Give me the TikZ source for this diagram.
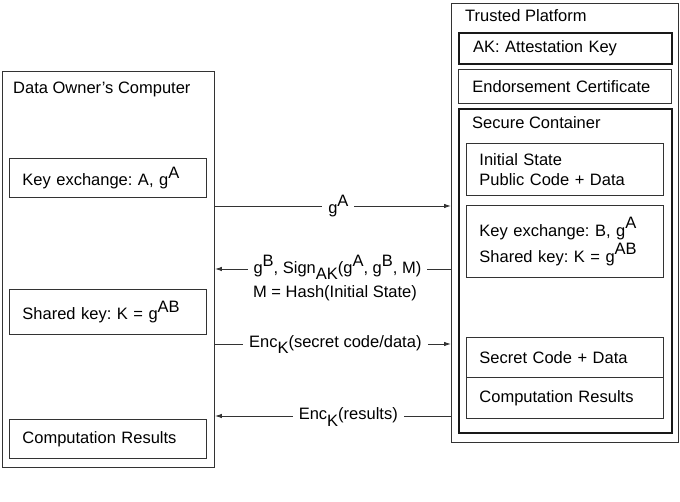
\documentclass[tikz,border=0pt]{standalone}
\usepackage{fontspec}
\setmainfont{Liberation Sans}
\usetikzlibrary{arrows.meta}
\frenchspacing
\newcommand{\upidx}[1]{\raisebox{7.5pt}{#1}}
\newcommand{\lowidx}[1]{\raisebox{-6pt}{#1}}

\begin{document}
\begin{tikzpicture}[>={Latex[length=7pt,width=4.5pt]}, x=1pt, y=-1pt,
		every node/.style={font=\fontsize{16.5}{20}\selectfont},
		boxline/.style={draw=black!80, line width=0.9pt, anchor=north west, inner sep=0pt},
		panel/.style={boxline, align=left, text width=171pt, inner xsep=13pt, inner ysep=0pt},
		widepanel/.style={panel, text width=185pt, inner xsep=14pt},
		heavy/.style={draw=black!90, line width=2pt},
		heading/.style={anchor=base west, inner sep=0pt},
		msg/.style={fill=white, inner xsep=6pt, inner ysep=1pt, anchor=base},
		link/.style={->, draw=black!80, line width=0.9pt}]
	\useasboundingbox (0,0) rectangle (680,502);

	% data owner side
	\node[boxline, minimum width=212pt, minimum height=396pt] (owner) at (2,71) {};
	\node[heading] (ownertitle) at (13,94) {Data Owner's Computer};
	\node[panel, minimum height=39pt] (kexA) at (9,158) {Key exchange: A, g\upidx{A}};
	\node[panel, minimum height=45pt] (sharedA) at (9,289) {Shared key: K = g\upidx{AB}};
	\node[panel, minimum height=39pt] (resultsA) at (9,419) {Computation Results};

	% trusted platform side
	\node[boxline, minimum width=227pt, minimum height=439pt] (platform) at (451,3) {};
	\node[heading] (platformtitle) at (465,22) {Trusted Platform};
	\node[widepanel, heavy, minimum height=31pt] (ak) at (458,32) {AK: Attestation Key};
	\node[widepanel, minimum height=34pt] (cert) at (458,69) {Endorsement Certificate};
	\node[boxline, heavy, minimum width=213pt, minimum height=324pt] (container) at (458,108) {};
	\node[heading] (containertitle) at (472,129) {Secure Container};
	\node[panel, minimum height=52pt] (state) at (466,143) {Initial State\\Public Code + Data};
	\node[panel, minimum height=72pt] (kexB) at (466,205) {Key exchange: B, g\upidx{A}\\[3pt]Shared key: K = g\upidx{AB}};
	\node[panel, minimum height=40pt] (secret) at (466,337) {Secret Code + Data};
	\node[panel, minimum height=41pt] (resultsB) at (466,377) {Computation Results};

	% messages
	\coordinate (m1) at (0,206);
	\coordinate (m2) at (0,269);
	\coordinate (m3) at (0,344);
	\coordinate (m4) at (0,416);

	\draw[link] (owner.east |- m1) -- node[msg, pos=0.523, yshift=-8pt] (gA) {g\upidx{A}} (platform.west |- m1);
	\draw[link] (platform.west |- m2) -- node[msg, pos=0.481, yshift=-5pt] (signB) {g\upidx{B}, Sign\lowidx{AK}(g\upidx{A}, g\upidx{B}, M)} (owner.east |- m2);
	\node[heading, anchor=base] (hashM) at (335,298) {M = Hash(Initial State)};
	\draw[link] (owner.east |- m3) -- node[msg, pos=0.51, yshift=-4pt] (encS) {Enc\lowidx{K}(secret code/data)} (platform.west |- m3);
	\draw[link] (platform.west |- m4) -- node[msg, pos=0.435, yshift=-4pt] (encR) {Enc\lowidx{K}(results)} (owner.east |- m4);
\end{tikzpicture}
\end{document}
